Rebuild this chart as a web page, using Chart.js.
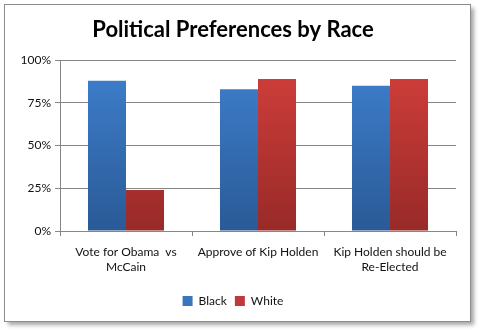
<!DOCTYPE html>
<html><head><meta charset="utf-8">
<script src="https://cdn.jsdelivr.net/npm/chart.js@4"></script>
<style>html,body{margin:0;padding:0;background:#fff}#wrap{width:480px;height:332px}</style>
</head><body><div id="wrap"><canvas id="c" width="480" height="332"></canvas></div>
<script>
const categories = [["Vote for Obama  vs","McCain"],"Approve of Kip Holden",["Kip Holden should be","Re-Elected"]];
const blackValues = [88, 83, 85];
const whiteValues = [24, 89, 89];
const yTicks = [0, 25, 50, 75, 100];

function grad(ctx, top, bottom){
  const ca = ctx.chart.chartArea;
  if(!ca) return top;
  const g = ctx.chart.ctx.createLinearGradient(0, ca.top, 0, ca.bottom);
  g.addColorStop(0, top); g.addColorStop(1, bottom);
  return g;
}

const frame = {
  id:'frame',
  beforeDraw(chart){
    const c = chart.ctx;
    c.save();
    c.fillStyle='#fff'; c.fillRect(0,0,480,332);
    c.shadowColor='rgba(0,0,0,0.35)'; c.shadowBlur=4; c.shadowOffsetX=3; c.shadowOffsetY=3;
    c.fillStyle='#fff'; c.fillRect(4.5,4.5,466,317);
    c.shadowColor='transparent';
    c.strokeStyle='#8c8c8c'; c.lineWidth=1; c.strokeRect(4.5,4.5,466,317);
    c.restore();
  }
};

new Chart(document.getElementById('c'), {
  type:'bar',
  data:{
    labels: categories,
    datasets:[
      {label:'Black', data:blackValues, backgroundColor:(ctx)=>grad(ctx,'#3f80cf','#2a5a96'), borderWidth:0, categoryPercentage:0.576, barPercentage:1},
      {label:'White', data:whiteValues, backgroundColor:(ctx)=>grad(ctx,'#d23f3b','#982a28'), borderWidth:0, categoryPercentage:0.576, barPercentage:1}
    ]
  },
  options:{
    responsive:false, animation:false,
    layout:{padding:{left:10, right:24, top:4, bottom:15}},
    plugins:{
      title:{display:true, text:'Political Preferences by Race', color:'#000',
        font:{family:'Lato', size:22, weight:'bold', lineHeight:1.1}, padding:{top:14,bottom:18}},
      legend:{position:'bottom', labels:{color:'#111', font:{family:'Lato', size:12}, boxWidth:10, boxHeight:10, padding:8,
        generateLabels(chart){
          return chart.data.datasets.map((d,i)=>({text:d.label, fillStyle:i?'#c0393a':'#3a76c0', strokeStyle:'transparent', lineWidth:0, datasetIndex:i, fontColor:'#111'}));
        }}},
      tooltip:{enabled:false}
    },
    scales:{
      x:{
        grid:{display:true, drawOnChartArea:false, drawTicks:true, tickLength:5, color:'#868686', offset:true},
        border:{display:true, color:'#868686'},
        ticks:{color:'#111', font:{family:'Lato', size:12, lineHeight:1.3}, padding:8, maxRotation:0, autoSkip:false},
        afterFit(s){ s.height = 56; }
      },
      y:{
        min:0, max:100,
        afterBuildTicks(s){ s.ticks = yTicks.map(v=>({value:v})); },
        grid:{color:'#868686', tickLength:5, drawTicks:true},
        border:{display:true, color:'#868686'},
        ticks:{color:'#111', font:{family:'Lato', size:12}, padding:4, callback:(v)=>v+'%'},
        afterFit(s){ s.width = 50; }
      }
    }
  },
  plugins:[frame]
});
</script></body></html>
